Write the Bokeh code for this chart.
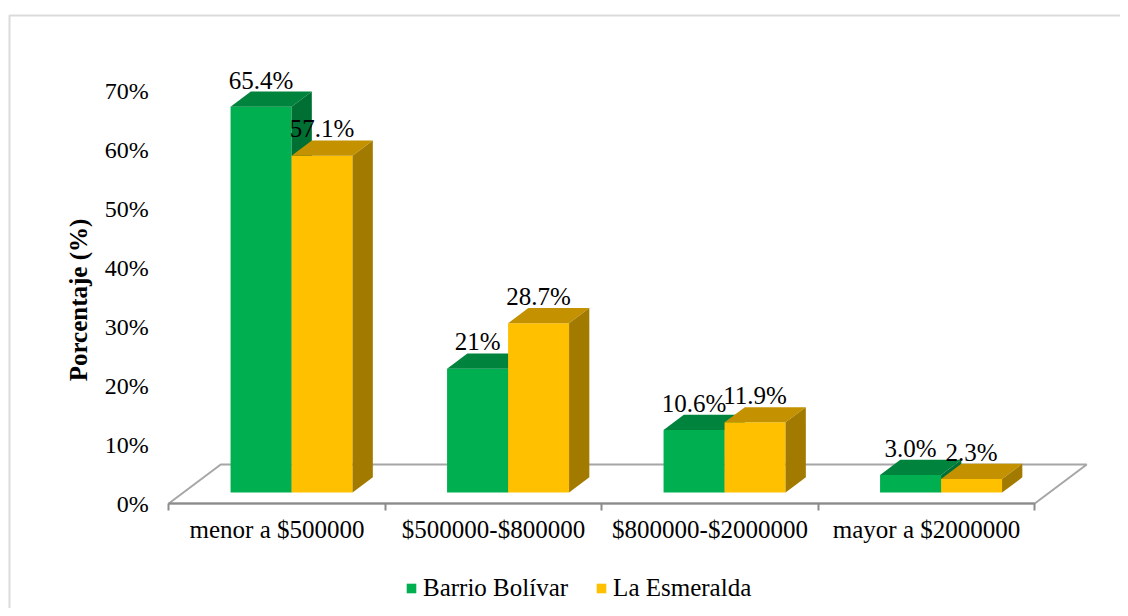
from bokeh.plotting import figure
from bokeh.models import (LinearAxis, FixedTicker, Legend, LegendItem,
                          BoxAnnotation, Range1d, ColumnDataSource)
from bokeh.core.properties import value
from bokeh.embed import file_html
from bokeh.resources import INLINE

# ---------------- data ----------------
categories = ["menor a $500000", "$500000-$800000", "$800000-$2000000", "mayor a $2000000"]
series_names = ["Barrio Bolívar", "La Esmeralda"]
barrio_bolivar = [65.4, 21.0, 10.6, 3.0]
la_esmeralda = [57.1, 28.7, 11.9, 2.3]
barrio_labels = ["65.4%", "21%", "10.6%", "3.0%"]
esmeralda_labels = ["57.1%", "28.7%", "11.9%", "2.3%"]
y_ticks = [0, 10, 20, 30, 40, 50, 60, 70]
y_tick_labels = ["0%", "10%", "20%", "30%", "40%", "50%", "60%", "70%"]

# ---------------- layout constants ----------------
W, H = 1120, 608
PX_X = 216.5      # pixels per category
PX_Y = 5.9        # pixels per percent
X0_PX = 276.5     # canvas px of first category centre
Y0_PX = 503.0     # canvas px of 0 %
DEPTH_X = 52 / PX_X   # floor depth (data units)
DEPTH_Y = 39 / PX_Y
F_FRONT, F_BACK = 0.28, 0.67
BAR_W = 61 / PX_X

FONT = "Liberation Serif"
FS = "25px"
FS_TICK = "24px"

front_colors = ["#00B050", "#FFC000"]
top_colors = ["#00843D", "#C49200"]
side_colors = ["#006F33", "#A37A00"]

x_range = Range1d(-X0_PX / PX_X, (W - X0_PX) / PX_X)
y_range = Range1d(-(H - Y0_PX) / PX_Y, Y0_PX / PX_Y)

p = figure(width=W, height=H, x_range=x_range, y_range=y_range,
           x_axis_type=None, y_axis_type=None, toolbar_location=None,
           output_backend="svg", min_border=0, outline_line_color=None,
           background_fill_color="white", border_fill_color="white")
p.grid.visible = False

# chart border (decoration)
border = BoxAnnotation(left=x_range.start + 9 / PX_X, right=x_range.end + 5,
                       top=y_range.end - 15 / PX_Y, bottom=y_range.start - 5,
                       fill_alpha=0, line_color="#878787", line_width=2)
p.add_layout(border)

# floor
n = len(categories)
fx = [-0.5, n - 0.5, n - 0.5 + DEPTH_X, -0.5 + DEPTH_X]
fy = [0, 0, DEPTH_Y, DEPTH_Y]
p.patch(fx, fy, fill_alpha=0, line_color="#A6A6A6", line_width=2)

ddx = (F_BACK - F_FRONT) * DEPTH_X
ddy = (F_BACK - F_FRONT) * DEPTH_Y
base = F_FRONT * DEPTH_Y

front_renderers = []
for s, (vals, labels) in enumerate([(barrio_bolivar, barrio_labels),
                                    (la_esmeralda, esmeralda_labels)]):
    lefts = [i - BAR_W + s * BAR_W + F_FRONT * DEPTH_X for i in range(n)]
    rights = [l + BAR_W for l in lefts]
    tops = [v + base for v in vals]
    r = p.quad(left=lefts, right=rights, bottom=[base] * n, top=tops,
               fill_color=front_colors[s], line_color=None)
    front_renderers.append(r)
    top_xs = [[l, rr, rr + ddx, l + ddx] for l, rr in zip(lefts, rights)]
    top_ys = [[t, t, t + ddy, t + ddy] for t in tops]
    p.patches(top_xs, top_ys, fill_color=top_colors[s], line_color=None)
    side_xs = [[rr, rr, rr + ddx, rr + ddx] for rr in rights]
    side_ys = [[base, t, t + ddy, base + ddy] for t in tops]
    p.patches(side_xs, side_ys, fill_color=side_colors[s], line_color=None)
    src = ColumnDataSource(dict(x=[(l + rr) / 2 for l, rr in zip(lefts, rights)],
                                y=[v + F_BACK * DEPTH_Y for v in vals],
                                t=labels))
    p.text(x="x", y="y", text="t", source=src, text_align="center",
           text_baseline="bottom", y_offset=2,
           text_font=value(FONT), text_font_size=FS, text_color="black")

# x axis on the floor front edge
xaxis = LinearAxis(fixed_location=0, bounds=(-0.5, n - 0.5),
                   ticker=FixedTicker(ticks=list(range(n)),
                                      minor_ticks=[i - 0.5 for i in range(n + 1)]),
                   major_label_overrides={i: c for i, c in enumerate(categories)},
                   axis_line_color="#8C8C8C", axis_line_width=2,
                   major_tick_line_color=None, major_tick_out=0, major_tick_in=0,
                   minor_tick_line_color="#8C8C8C", minor_tick_line_width=2,
                   minor_tick_out=7, minor_tick_in=0,
                   major_label_standoff=5,
                   major_label_text_font=FONT, major_label_text_font_size=FS,
                   major_label_text_color="black")
p.add_layout(xaxis, "below")

# y axis
yaxis = LinearAxis(fixed_location=-0.5, bounds=(0, 69),
                   ticker=FixedTicker(ticks=y_ticks),
                   major_label_overrides={t: l for t, l in zip(y_ticks, y_tick_labels)},
                   axis_line_color=None, major_tick_line_color=None,
                   minor_tick_line_color=None, major_tick_out=0, major_tick_in=0,
                   major_label_standoff=20,
                   major_label_text_font=FONT, major_label_text_font_size=FS_TICK,
                   major_label_text_color="black",
                   axis_label="Porcentaje (%)", axis_label_standoff=10,
                   axis_label_text_font=FONT, axis_label_text_font_size=FS,
                   axis_label_text_font_style="bold", axis_label_text_color="black")
p.add_layout(yaxis, "left")

legend = Legend(items=[LegendItem(label=series_names[0], renderers=[front_renderers[0]]),
                       LegendItem(label=series_names[1], renderers=[front_renderers[1]])],
                orientation="horizontal", location=(405, 6),
                glyph_width=12, glyph_height=12, label_standoff=6, spacing=27,
                padding=0, margin=0, border_line_color=None,
                background_fill_alpha=0,
                label_text_font=FONT, label_text_font_size=FS,
                label_text_color="black")
p.add_layout(legend, "center")

open("out.html", "w").write(file_html(p, INLINE))
